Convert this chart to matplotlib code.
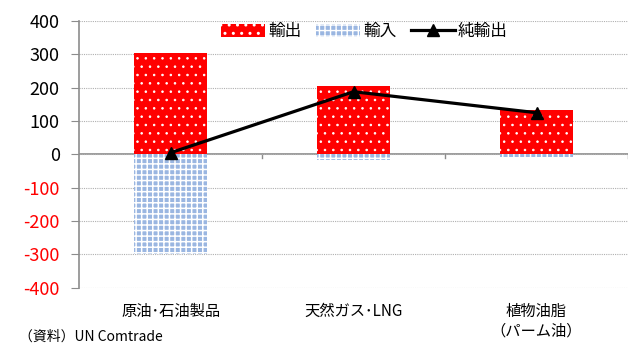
import matplotlib as mpl
import matplotlib.pyplot as plt
import numpy as np

plt.rcParams['font.family'] = ['Noto Sans CJK JP', 'DejaVu Sans']

# 品目別の輸出入（億ドル）
categories = ['原油･石油製品', '天然ガス･LNG', '植物油脂\n（パーム油）']
exports = [303, 204, 134]
imports = [-298, -16, -9]
net_exports = [5, 188, 125]
yticks = [400, 300, 200, 100, 0, -100, -200, -300, -400]

fig = plt.figure(figsize=(6.28, 3.45), dpi=100)
ax = fig.add_axes([0.126, 0.166, 0.874, 0.773])

x = np.arange(len(categories))
w = 0.4
with mpl.rc_context({'hatch.linewidth': 0.6}):
    b_exp = ax.bar(x, exports, width=w, color='#ff0000', edgecolor='white', hatch='..',
                   linewidth=0, label='輸出', zorder=2)
with mpl.rc_context({'hatch.linewidth': 1.1}):
    b_imp = ax.bar(x, imports, width=w, color='#9ab6e1', edgecolor='white', hatch='+++',
                   linewidth=0, label='輸入', zorder=2)
ln_net, = ax.plot(x, net_exports, color='black', lw=2.3, marker='^', markersize=9,
                  label='純輸出', zorder=3)

ax.set_xlim(-0.5, len(categories) - 0.5)
ax.set_ylim(-400, 400)
ax.set_yticks(yticks)
ax.set_yticklabels([str(v) for v in yticks], fontsize=13)
for lbl, v in zip(ax.get_yticklabels(), yticks):
    lbl.set_color('red' if v < 0 else 'black')
ax.grid(axis='y', color='#b0b0b0', linestyle=(0, (1, 1)), linewidth=0.8, zorder=0)

for s in ['top', 'right', 'bottom']:
    ax.spines[s].set_visible(False)
ax.spines['left'].set_color('#8c8c8c')
ax.spines['left'].set_linewidth(1.2)
ax.axhline(0, color='#8c8c8c', lw=1.2, zorder=1)
ax.tick_params(axis='y', length=6, color='#8c8c8c', pad=8)

# 横軸の目盛はゼロ線上に区切りとして描く
ax.set_xticks([])
for b in np.arange(0.5, len(categories), 1.0):
    ax.plot([b, b], [0, -12], color='#8c8c8c', lw=1, clip_on=False, zorder=1)
for i, c in enumerate(categories):
    ax.text(i, -445, c, ha='center', va='top', fontsize=11, linespacing=1.2)

ax.legend(handles=[b_exp, b_imp, ln_net], loc='center', bbox_to_anchor=(0.52, 0.96),
          ncol=3, frameon=False, fontsize=12, handlelength=2.6, handleheight=0.8,
          handletextpad=0.2, columnspacing=0.9)

fig.text(0.03, 0.004, '（資料）UN Comtrade', fontsize=10, ha='left', va='bottom')

fig.savefig('out.png', dpi=100)
